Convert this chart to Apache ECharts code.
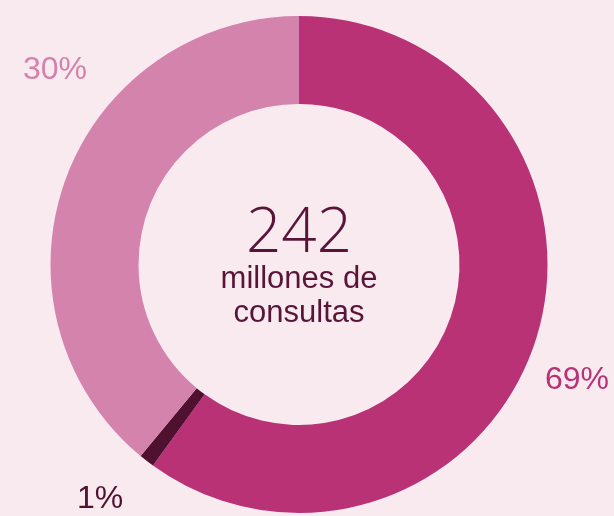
<!DOCTYPE html>
<html>
<head>
<meta charset="utf-8">
<script src="https://cdn.jsdelivr.net/npm/echarts@6/dist/echarts.min.js"></script>
<style>
  html, body { margin: 0; padding: 0; background: #f9eaf0; }
  #chart { width: 614px; height: 516px; }
</style>
</head>
<body>
<div id="chart"></div>
<script>
// categorías en el orden del dibujo (horario desde arriba)
const categories = ['Grupo A', 'Grupo B', 'Grupo C'];
// porción de arco tal como se ve en la imagen
const arcShares = [60, 1, 39];
// textos impresos en la imagen
const pctLabels = ['69%', '1%', '30%'];
const totalText = '242';
const totalCaption = ['millones de', 'consultas'];

const colors = ['#b83275', '#501030', '#d383ac'];
// dónde colocar cada etiqueta (px)
const labelPos = [[577, 380], [100, 499], [55, 70]];

const chart = echarts.init(document.getElementById('chart'));

chart.setOption({
  backgroundColor: '#f9eaf0',
  animation: false,
  series: [{
    type: 'pie',
    center: [299, 264.5],
    radius: [160.5, 248.5],
    startAngle: 90,
    clockwise: true,
    silent: true,
    avoidLabelOverlap: false,
    itemStyle: { borderWidth: 0 },
    label: {
      show: true,
      position: 'outside',
      overflow: 'none',
      fontFamily: 'Liberation Sans, Arial, sans-serif',
      fontSize: 32,
      formatter: (p) => pctLabels[p.dataIndex]
    },
    labelLine: { show: false },
    labelLayout: (params) => {
      const p = labelPos[params.dataIndex];
      return { x: p[0], y: p[1], align: 'center', verticalAlign: 'middle', hideOverlap: false };
    },
    data: categories.map((name, i) => ({
      name: name,
      value: arcShares[i],
      itemStyle: { color: colors[i] },
      label: { color: colors[i] }
    }))
  }],
  graphic: [
    {
      type: 'text',
      x: 299,
      y: 234,
      style: {
        text: totalText,
        fill: '#581538',
        font: '300 62px "Open Sans", Lato, sans-serif',
        align: 'center',
        verticalAlign: 'middle'
      }
    },
    {
      type: 'text',
      x: 299,
      y: 279,
      style: {
        text: totalCaption[0],
        fill: '#581538',
        font: '31px "Liberation Sans", Arial, sans-serif',
        align: 'center',
        verticalAlign: 'middle'
      }
    },
    {
      type: 'text',
      x: 299,
      y: 313,
      style: {
        text: totalCaption[1],
        fill: '#581538',
        font: '31px "Liberation Sans", Arial, sans-serif',
        align: 'center',
        verticalAlign: 'middle'
      }
    }
  ]
});
</script>
</body>
</html>
